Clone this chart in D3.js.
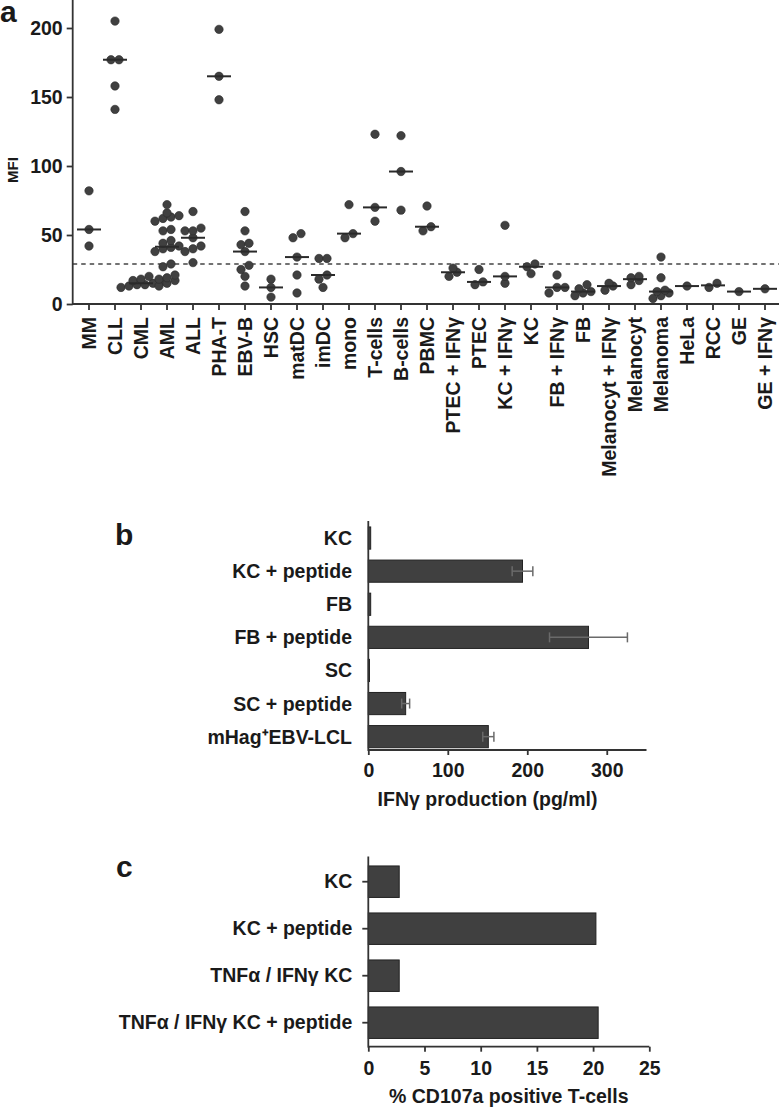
<!DOCTYPE html>
<html><head><meta charset="utf-8">
<script src="https://cdn.jsdelivr.net/npm/d3@7/dist/d3.min.js"></script>
<style>
body{margin:0;background:#fff;}
svg{display:block;}
text{font-family:"Liberation Sans",Arial,Helvetica,sans-serif;font-weight:bold;fill:#1a1a1a;}
</style>
</head><body>
<svg id="chart" width="779" height="1113"></svg>
<script>
// ---------- Panel a data ----------
const categoriesA = ["MM","CLL","CML","AML","ALL","PHA-T","EBV-B","HSC","matDC","imDC","mono","T-cells","B-cells","PBMC",
  "PTEC + IFNγ","PTEC","KC + IFNγ","KC","FB + IFNγ","FB","Melanocyt + IFNγ","Melanocyt","Melanoma","HeLa","RCC","GE","GE + IFNγ"];
const mfiMM = [42,54,82];
const mfiCLL = [205,177,177,158,141];
const mfiCML = [20,17,15,14,13,16,18,14,12];
const mfiAML = [72,66,64,63,62,60,54,53,46,44,42,41,40,38,29,27,21,19,17,15,13,18];
const mfiALL = [67,55,53,53,48,40,42,38,30];
const mfiPHAT = [199,165,148];
const mfiEBVB = [67,53,44,43,38,28,25,20,13];
const mfiHSC = [5,12,18];
const mfiMatDC = [51,48,34,21,8];
const mfiImDC = [33,33,21,18,12];
const mfiMono = [72,51,48];
const mfiTcells = [123,70,60];
const mfiBcells = [122,96,68];
const mfiPBMC = [71,56,53];
const mfiPTECifn = [26,20,23];
const mfiPTEC = [25,14,16];
const mfiKCifn = [57,15,20];
const mfiKC = [29,22,27];
const mfiFBifn = [21,12,8,12];
const mfiFB = [14,9,6,8,11];
const mfiMelanocytIfn = [15,10,13];
const mfiMelanocyt = [19,14,17,20];
const mfiMelanoma = [34,19,10,9,8,6,4];
const mfiHeLa = [13];
const mfiRCC = [12,15];
const mfiGE = [9];
const mfiGEifn = [11];
const mfiValues = [mfiMM,mfiCLL,mfiCML,mfiAML,mfiALL,mfiPHAT,mfiEBVB,mfiHSC,mfiMatDC,mfiImDC,mfiMono,mfiTcells,mfiBcells,mfiPBMC,
  mfiPTECifn,mfiPTEC,mfiKCifn,mfiKC,mfiFBifn,mfiFB,mfiMelanocytIfn,mfiMelanocyt,mfiMelanoma,mfiHeLa,mfiRCC,mfiGE,mfiGEifn];
const ticksA = [0,50,100,150,200];
const thresholdA = 29;

// ---------- Panel b data ----------
const categoriesB = ["KC","KC + peptide","FB","FB + peptide","SC","SC + peptide","mHag⁺EBV-LCL"];
const ifnValues = [3,194,3,277,1.5,47,151];
const ifnErrors = [0,13,0,49,0,5,7];
const ticksB = [0,100,200,300];

// ---------- Panel c data ----------
const categoriesC = ["KC","KC + peptide","TNFα / IFNγ KC","TNFα / IFNγ KC + peptide"];
const cd107Values = [2.75,20.25,2.75,20.45];
const ticksC = [0,5,10,15,20,25];

// ---------- drawing ----------
const svg = d3.select("#chart");
const INK = "#333";
const FILL = "#404040";
const FS = 19.5;

// Panel a
const gA = svg.append("g");
const xA = d3.scaleBand().domain(categoriesA).range([76, 778]);
const yA = d3.scaleLinear().domain([0, 220]).range([304, 0.4]);
const axisXA = 72.7;

gA.append("text").attr("x", 0).attr("y", 22).style("font-size", "30px").text("a");

// dashed threshold
gA.append("line").attr("x1", axisXA).attr("x2", 779).attr("y1", yA(thresholdA)).attr("y2", yA(thresholdA))
  .attr("stroke", "#444").attr("stroke-width", 1.6).attr("stroke-dasharray", "4.5,4");

// y axis
const yAxisA = gA.append("g").attr("transform", `translate(${axisXA},0)`)
  .call(d3.axisLeft(yA).tickValues(ticksA).tickSize(6).tickPadding(4));
yAxisA.select(".domain").remove();
yAxisA.selectAll(".tick line").attr("stroke", INK).attr("stroke-width", 1.8);
yAxisA.selectAll("text").style("font-size", FS + "px").attr("fill", "#1a1a1a");
gA.append("line").attr("x1", axisXA).attr("x2", axisXA).attr("y1", 0).attr("y2", 304.9)
  .attr("stroke", INK).attr("stroke-width", 1.8);

// x axis
const xAxisA = gA.append("g").attr("transform", "translate(0,304)")
  .call(d3.axisBottom(xA).tickSize(6).tickFormat(""));
xAxisA.select(".domain").remove();
xAxisA.selectAll(".tick line").attr("stroke", INK).attr("stroke-width", 1.8);
gA.append("line").attr("x1", axisXA).attr("x2", 779).attr("y1", 304).attr("y2", 304)
  .attr("stroke", INK).attr("stroke-width", 1.8);
gA.selectAll("text.catA").data(categoriesA).join("text").attr("class", "catA")
  .attr("transform", d => `translate(${xA(d) + xA.bandwidth() / 2},317) rotate(-90)`)
  .attr("text-anchor", "end").attr("dy", "0.36em").style("font-size", FS + "px").text(d => d);

gA.append("text").attr("transform", "translate(13,170) rotate(-90)").attr("text-anchor", "middle")
  .attr("dy", "0.36em").style("font-size", "15px").text("MFI");

// beeswarm placement (deterministic)
function swarm(vals, cx) {
  const pts = vals.map(v => ({ v, y: yA(v) })).sort((a, b) => b.y - a.y);
  const rows = []; let cur = null;
  pts.forEach(p => {
    if (!cur || cur[0].y - p.y > 6) { cur = [p]; rows.push(cur); } else cur.push(p);
  });
  rows.forEach(r => r.forEach((p, i) => { p.x = cx + (i - (r.length - 1) / 2) * 8; }));
  return pts;
}
categoriesA.forEach((cat, i) => {
  const cx = xA(cat) + xA.bandwidth() / 2;
  const pts = swarm(mfiValues[i], cx);
  gA.append("g").selectAll("circle").data(pts).join("circle")
    .attr("cx", d => d.x).attr("cy", d => d.y).attr("r", 4.2)
    .attr("fill", FILL).attr("stroke", "#2a2a2a").attr("stroke-width", 0.6);
  const med = d3.median(mfiValues[i]);
  gA.append("line").attr("x1", cx - 12).attr("x2", cx + 12).attr("y1", yA(med)).attr("y2", yA(med))
    .attr("stroke", "#2a2a2a").attr("stroke-width", 2);
});

// Panel b
const gB = svg.append("g");
const axisXB = 368.3;
const xB = d3.scaleLinear().domain([0, 350]).range([axisXB, 646.5]);
const yB = d3.scaleBand().domain(categoriesB).range([521.5, 753.2]).paddingInner(0.33).paddingOuter(0.165);
const baseB = 750;

gB.append("text").attr("x", 115).attr("y", 545).style("font-size", "30px").text("b");

gB.selectAll("rect").data(categoriesB).join("rect")
  .attr("x", axisXB).attr("y", d => yB(d))
  .attr("width", (d, i) => xB(ifnValues[i]) - axisXB).attr("height", yB.bandwidth())
  .attr("fill", FILL).attr("stroke", "#222").attr("stroke-width", 1);

const errG = gB.append("g").attr("stroke", "#6a6a6a").attr("stroke-width", 1.5);
categoriesB.forEach((cat, i) => {
  if (!ifnErrors[i]) return;
  const cy = yB(cat) + yB.bandwidth() / 2;
  const x0 = xB(ifnValues[i] - ifnErrors[i]), x1 = xB(ifnValues[i] + ifnErrors[i]);
  errG.append("line").attr("x1", x0).attr("x2", x1).attr("y1", cy).attr("y2", cy);
  errG.append("line").attr("x1", x0).attr("x2", x0).attr("y1", cy - 5).attr("y2", cy + 5);
  errG.append("line").attr("x1", x1).attr("x2", x1).attr("y1", cy - 5).attr("y2", cy + 5);
});

gB.selectAll("text.catB").data(categoriesB).join("text").attr("class", "catB")
  .attr("x", 352).attr("y", d => yB(d) + yB.bandwidth() / 2).attr("dy", "0.36em")
  .attr("text-anchor", "end").style("font-size", FS + "px").text(d => d);

const xAxisB = gB.append("g").attr("transform", `translate(0,${baseB})`)
  .call(d3.axisBottom(xB).tickValues(ticksB).tickSize(5).tickPadding(8));
xAxisB.select(".domain").remove();
xAxisB.selectAll(".tick line").attr("stroke", INK).attr("stroke-width", 1.8);
xAxisB.selectAll("text").style("font-size", FS + "px").attr("fill", "#1a1a1a");
gB.append("line").attr("x1", axisXB).attr("x2", 646.5).attr("y1", baseB).attr("y2", baseB)
  .attr("stroke", INK).attr("stroke-width", 1.8);
gB.append("line").attr("x1", axisXB).attr("x2", axisXB).attr("y1", 521).attr("y2", baseB + 0.9)
  .attr("stroke", INK).attr("stroke-width", 1.8);
gB.append("text").attr("x", (xB(0) + xB(300)) / 2).attr("y", 806).attr("text-anchor", "middle")
  .style("font-size", FS + "px").text("IFNγ production (pg/ml)");

// Panel c
const gC = svg.append("g");
const axisXC = 368.3;
const xC = d3.scaleLinear().domain([0, 25]).range([axisXC, 649.3]);
const yC = d3.scaleBand().domain(categoriesC).range([858.2, 1046.2]).paddingInner(0.33).paddingOuter(0.165);
const baseC = 1046.7;

gC.append("text").attr("x", 116).attr("y", 877).style("font-size", "30px").text("c");

gC.selectAll("rect").data(categoriesC).join("rect")
  .attr("x", axisXC).attr("y", d => yC(d))
  .attr("width", (d, i) => xC(cd107Values[i]) - axisXC).attr("height", yC.bandwidth())
  .attr("fill", FILL).attr("stroke", "#222").attr("stroke-width", 1);

const yAxisC = gC.append("g").attr("transform", `translate(${axisXC},0)`)
  .call(d3.axisLeft(yC).tickSize(6).tickPadding(10));
yAxisC.select(".domain").remove();
yAxisC.selectAll(".tick line").attr("stroke", INK).attr("stroke-width", 1.8);
yAxisC.selectAll("text").style("font-size", FS + "px").attr("fill", "#1a1a1a");

const xAxisC = gC.append("g").attr("transform", `translate(0,${baseC})`)
  .call(d3.axisBottom(xC).tickValues(ticksC).tickSize(5).tickPadding(9));
xAxisC.select(".domain").remove();
xAxisC.selectAll(".tick line").attr("stroke", INK).attr("stroke-width", 1.8);
xAxisC.selectAll("text").style("font-size", FS + "px").attr("fill", "#1a1a1a");
gC.append("line").attr("x1", axisXC).attr("x2", 649.3).attr("y1", baseC).attr("y2", baseC)
  .attr("stroke", INK).attr("stroke-width", 1.8);
gC.append("line").attr("x1", axisXC).attr("x2", axisXC).attr("y1", 856.5).attr("y2", baseC + 0.9)
  .attr("stroke", INK).attr("stroke-width", 1.8);
gC.append("text").attr("x", (axisXC + 649.3) / 2).attr("y", 1103).attr("text-anchor", "middle")
  .style("font-size", FS + "px").text("% CD107a positive T-cells");
</script>
</body></html>
